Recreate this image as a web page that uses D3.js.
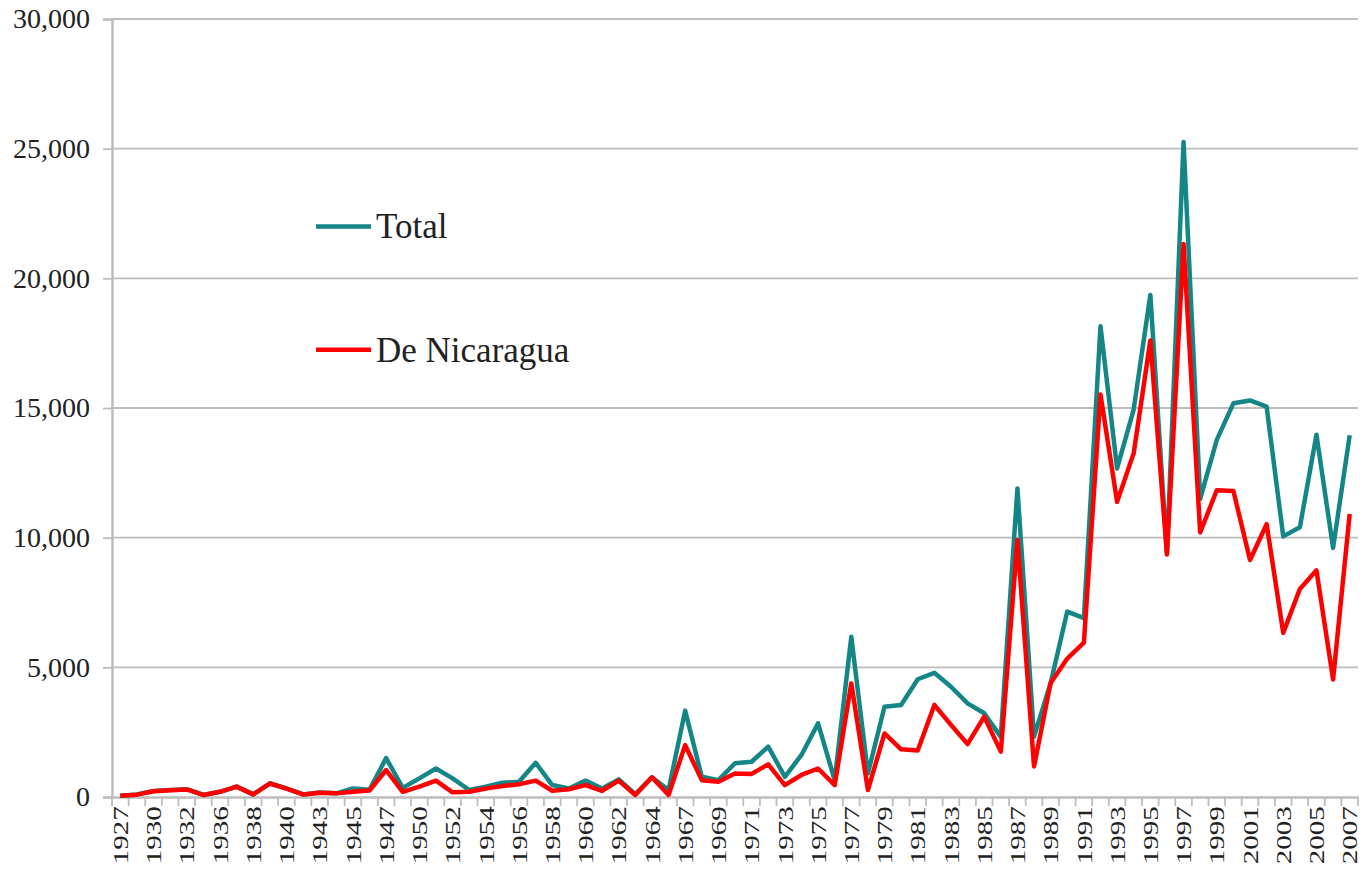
<!DOCTYPE html>
<html>
<head>
<meta charset="utf-8">
<script src="https://cdn.jsdelivr.net/npm/d3@7"></script>
<style>
  body { margin: 0; background: #fff; }
  text { font-family: "Liberation Serif", "DejaVu Serif", serif; fill: #222; }
</style>
</head>
<body>
<svg id="chart" width="1372" height="878"></svg>
<script>
// years on the category axis (some early years are missing in the source)
const years = [1927, 1929, 1930, 1931, 1932, 1934, 1936, 1937, 1938, 1939,
    1940, 1942, 1943, 1944, 1945, 1946, 1947, 1949, 1950, 1951,
    1952, 1953, 1954, 1955, 1956, 1957, 1958, 1959, 1960, 1961,
    1962, 1963, 1964, 1966, 1967, 1968, 1969, 1970, 1971, 1972,
    1973, 1974, 1975, 1976, 1977, 1978, 1979, 1980, 1981, 1982,
    1983, 1984, 1985, 1986, 1987, 1988, 1989, 1990, 1991, 1992,
    1993, 1994, 1995, 1996, 1997, 1998, 1999, 2000, 2001, 2002,
    2003, 2004, 2005, 2006, 2007];

const total = [50, 100, 230, 270, 300, 80, 200, 400, 100, 530,
    330, 100, 170, 140, 330, 280, 1500, 350, 720, 1100,
    720, 270, 400, 550, 590, 1320, 460, 330, 630, 330,
    680, 110, 760, 270, 3330, 780, 650, 1300, 1360, 1940,
    780, 1620, 2840, 650, 6180, 910, 3480, 3550, 4540, 4790,
    4250, 3610, 3230, 2320, 11900, 2330, 4400, 7150, 6900, 18150,
    12670, 14950, 19360, 9400, 25260, 11500, 13770, 15180, 15290, 15050,
    10050, 10400, 13970, 9600, 13950];

const nicaragua = [50, 90, 220, 260, 290, 80, 200, 400, 100, 520,
    320, 100, 160, 140, 200, 250, 1040, 200, 400, 630,
    180, 200, 330, 420, 490, 630, 240, 300, 460, 240,
    630, 80, 760, 80, 2000, 650, 590, 910, 890, 1260,
    460, 850, 1100, 460, 4380, 270, 2450, 1840, 1790, 3550,
    2780, 2040, 3100, 1750, 9910, 1180, 4400, 5340, 5950, 15520,
    11380, 13260, 17600, 9350, 21320, 10200, 11830, 11800, 9140, 10520,
    6330, 8020, 8740, 4530, 10910];

const seriesNames = ["Total", "De Nicaragua"];
const seriesColors = ["#158686", "#ff0000"];
const yTicks = [0, 5000, 10000, 15000, 20000, 25000, 30000];

const margin = { top: 19, right: 14, bottom: 81, left: 112 },
    width = 1372 - margin.left - margin.right,
    height = 878 - margin.top - margin.bottom;

const svg = d3.select("#chart");
const g = svg.append("g")
    .attr("transform", `translate(${margin.left},${margin.top})`);

const x = d3.scaleBand()
    .domain(years)
    .range([0, width])
    .padding(0);

const y = d3.scaleLinear()
    .domain([0, 30000])
    .range([height, 0]);

// gridlines
g.append("g")
    .selectAll("line")
    .data(yTicks.filter(d => d > 0))
    .enter()
    .append("line")
    .attr("x1", 0)
    .attr("x2", width)
    .attr("y1", d => y(d))
    .attr("y2", d => y(d))
    .style("stroke", "#bdbdbd")
    .style("stroke-width", 1.8);

// y axis
const yAxis = g.append("g")
    .call(d3.axisLeft(y).tickValues(yTicks).tickSize(9).tickPadding(13)
        .tickFormat(d3.format(",")));
yAxis.select(".domain").style("stroke", "#bdbdbd").style("stroke-width", 2.5);
yAxis.selectAll(".tick line").style("stroke", "#bdbdbd").style("stroke-width", 1.8);
yAxis.selectAll("text")
    .style("font-size", "28px")
    .style("fill", "#222");

// x axis: labels every other category, tick marks at category boundaries
const xAxis = g.append("g")
    .attr("transform", `translate(0,${height})`)
    .call(d3.axisBottom(x).tickSize(0).tickPadding(0)
        .tickFormat((d, i) => i % 2 === 0 ? d : ""));
xAxis.select(".domain").style("stroke", "#bdbdbd").style("stroke-width", 2.5);
xAxis.selectAll("text")
    .attr("transform", "rotate(-90) scale(1.32,1)")
    .attr("x", -7)
    .attr("y", 0)
    .attr("dy", "0.35em")
    .style("text-anchor", "end")
    .style("font-size", "22px")
    .style("fill", "#222");

xAxis.selectAll(".bound")
    .data(years.map(d => x(d)).concat([width]))
    .enter()
    .append("line")
    .attr("class", "bound")
    .attr("x1", d => d)
    .attr("x2", d => d)
    .attr("y1", 0)
    .attr("y2", 9)
    .style("stroke", "#bdbdbd")
    .style("stroke-width", 1.8);

// lines
const line = d3.line()
    .x((d, i) => x(years[i]) + x.bandwidth() / 2)
    .y(d => y(d));

[total, nicaragua].forEach((serie, k) => {
    g.append("path")
        .datum(serie)
        .attr("d", line)
        .style("fill", "none")
        .style("stroke", seriesColors[k])
        .style("stroke-width", 4.5)
        .style("stroke-linejoin", "round");
});

// legende
const legY = [y(22000), y(17250)];
seriesNames.forEach((name, k) => {
    g.append("line")
        .attr("x1", 316 - margin.left)
        .attr("x2", 371 - margin.left)
        .attr("y1", legY[k])
        .attr("y2", legY[k])
        .style("stroke", seriesColors[k])
        .style("stroke-width", 4.5);
    g.append("text")
        .attr("x", 376 - margin.left)
        .attr("y", legY[k] + 12)
        .style("font-size", "35px")
        .text(name);
});
</script>
</body>
</html>
